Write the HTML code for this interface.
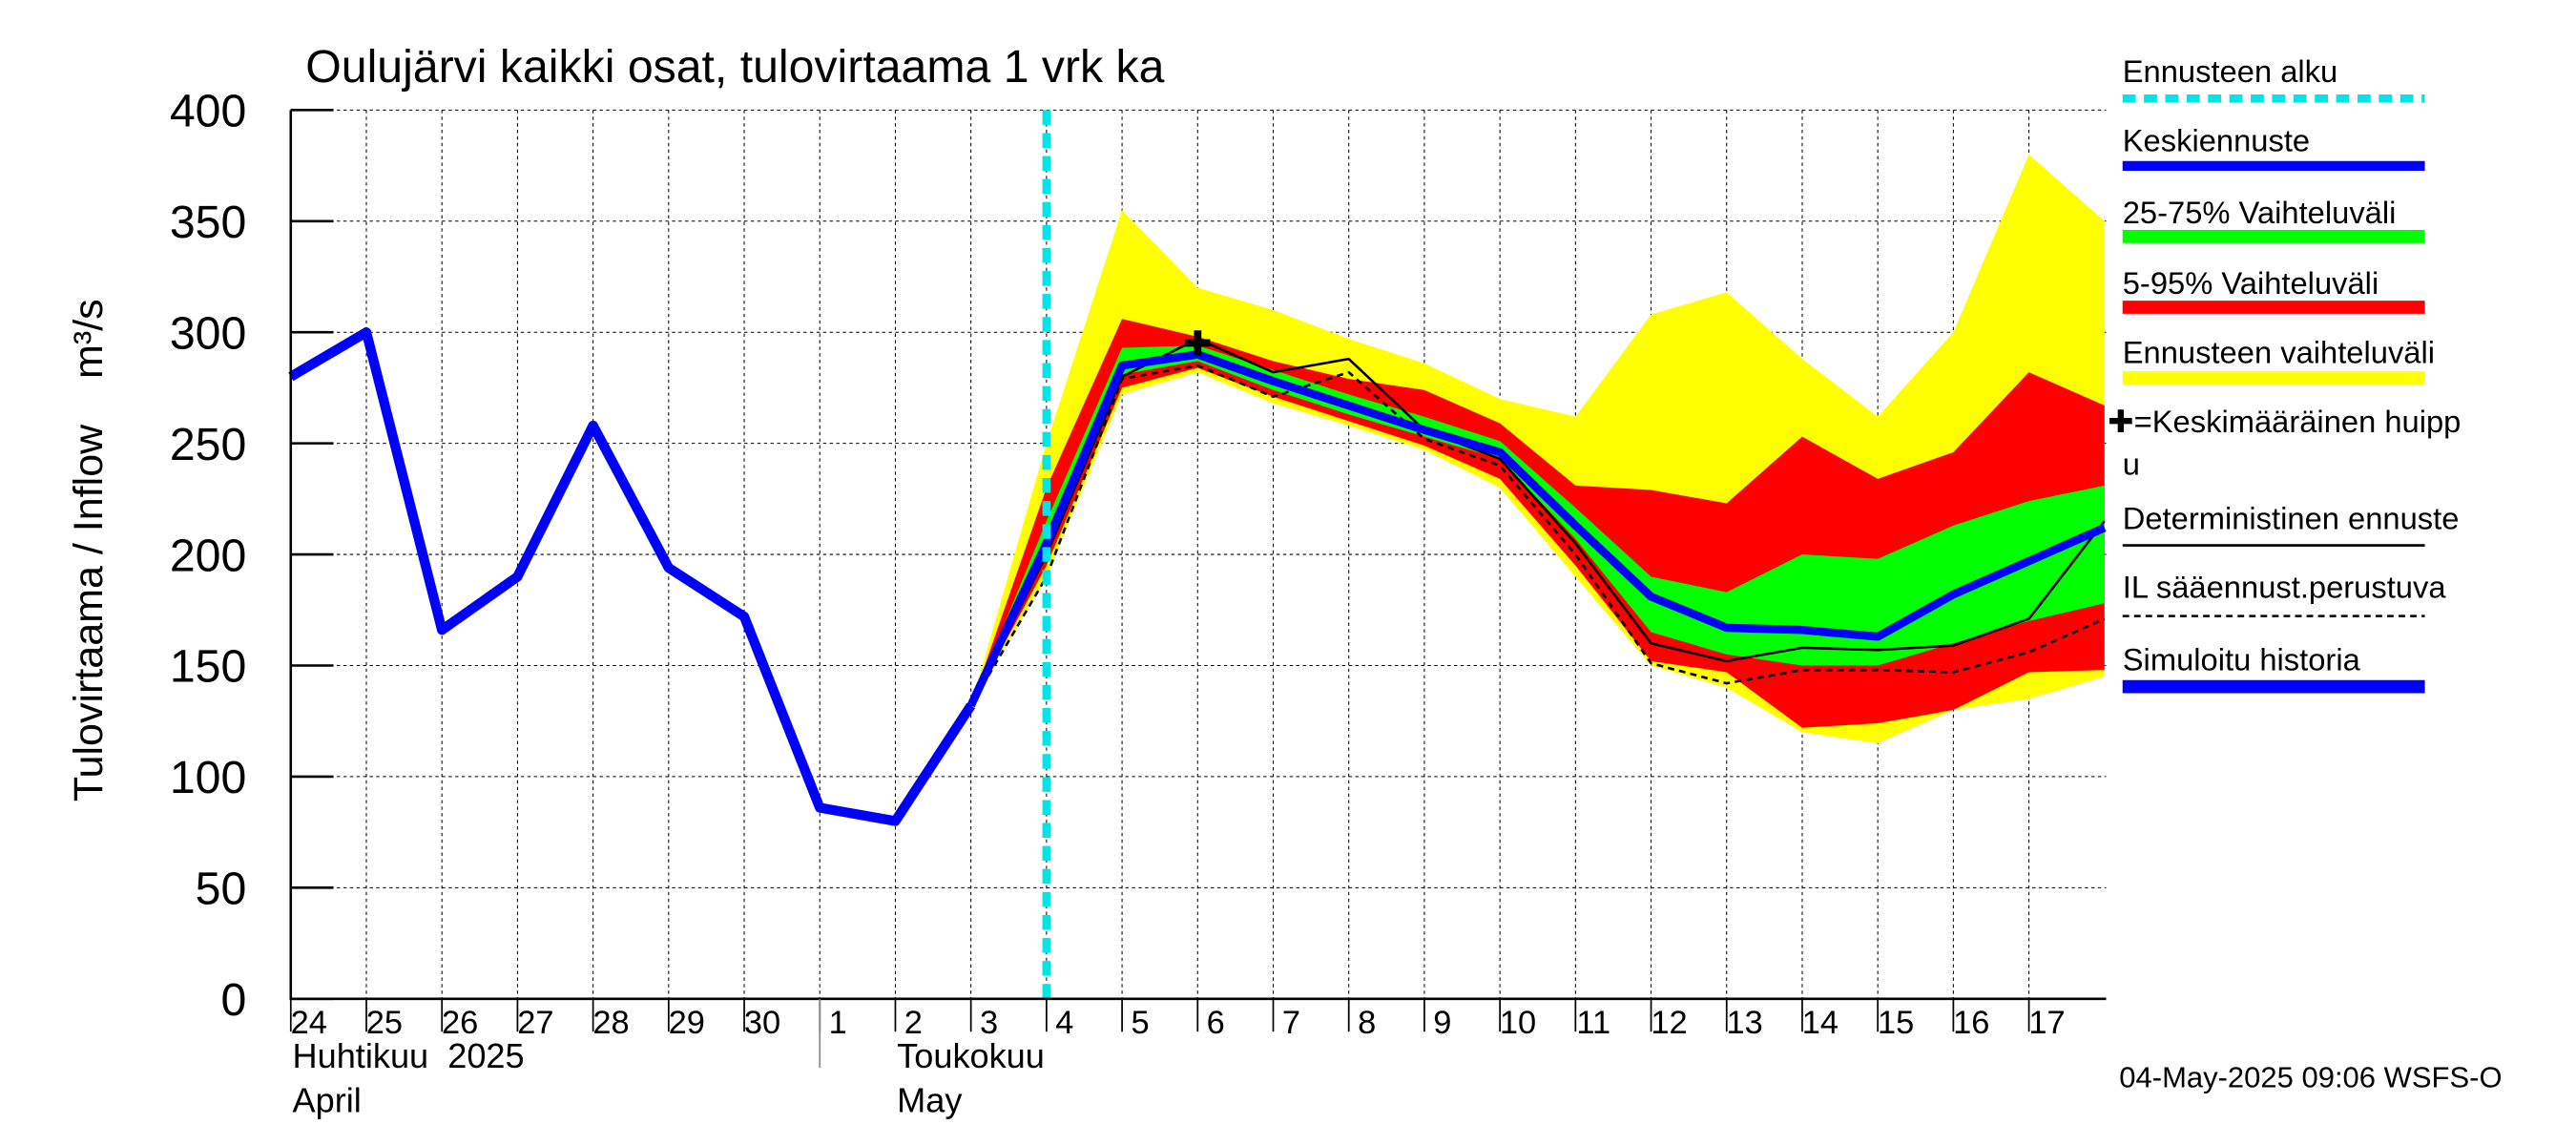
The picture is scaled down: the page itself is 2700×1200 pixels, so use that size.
<!DOCTYPE html>
<html><head><meta charset="utf-8"><style>html,body{margin:0;padding:0;background:#fff}svg{display:block}</style></head>
<body>
<svg id="chart" width="2700" height="1200" viewBox="0 0 1568 697" preserveAspectRatio="none" xmlns="http://www.w3.org/2000/svg" font-family="Liberation Sans, sans-serif">
<rect width="1568" height="697" fill="#fff"/>
<text x="186" y="50" font-size="28">Oulujärvi kaikki osat, tulovirtaama 1 vrk ka</text>
<text transform="translate(62,335) rotate(-90)" text-anchor="middle" font-size="25" style="white-space:pre">Tulovirtaama / Inflow    m³/s</text>
<g id="grid"></g><g id="bands"></g><g id="lines"></g><g id="axes"></g>
<g font-size="19">
<text x="1292" y="50">Ennusteen alku</text><line x1="1292" y1="60" x2="1476" y2="60" stroke="#00e5e5" stroke-width="5" stroke-dasharray="8,5"/>
<text x="1292" y="92">Keskiennuste</text><line x1="1292" y1="101" x2="1476" y2="101" stroke="#0000ff" stroke-width="6"/>
<text x="1292" y="136">25-75% Vaihteluväli</text><line x1="1292" y1="144" x2="1476" y2="144" stroke="#00ff00" stroke-width="8"/>
<text x="1292" y="179">5-95% Vaihteluväli</text><line x1="1292" y1="187" x2="1476" y2="187" stroke="#ff0000" stroke-width="8"/>
<text x="1292" y="221">Ennusteen vaihteluväli</text><line x1="1292" y1="230" x2="1476" y2="230" stroke="#ffff00" stroke-width="8"/>
<text x="1283" y="263">✚=Keskimääräinen huipp</text><text x="1292" y="289">u</text>
<text x="1292" y="322">Deterministinen ennuste</text><line x1="1292" y1="332" x2="1476" y2="332" stroke="#000" stroke-width="1.5"/>
<text x="1292" y="364">IL sääennust.perustuva</text><line x1="1292" y1="375" x2="1476" y2="375" stroke="#000" stroke-width="1.5" stroke-dasharray="4,3"/>
<text x="1292" y="408">Simuloitu historia</text><line x1="1292" y1="418" x2="1476" y2="418" stroke="#0000ff" stroke-width="8"/>
</g>
<text x="1290" y="662" font-size="18">04-May-2025 09:06 WSFS-O</text>
<text x="178" y="650" font-size="21" style="white-space:pre">Huhtikuu  2025</text><text x="178" y="677" font-size="21">April</text>
<text x="546" y="650" font-size="21">Toukokuu</text><text x="546" y="677" font-size="21">May</text>
<line x1="499" y1="608" x2="499" y2="650" stroke="#888" stroke-width="1"/>
</svg>
<script>
const dayLabels=["24","25","26","27","28","29","30","1","2","3","4","5","6","7","8","9","10","11","12","13","14","15","16","17"];
const yTicks=[0,50,100,150,200,250,300,350,400];
const history=[280,300,166,190,258,194,172,86,80,132];
const fcDays=[9,10,11,12,13,14,15,16,17,18,19,20,21,22,23,24];
const mean=[132,205,285,290,278,267,256,246,213,181,167,166,163,182,197,212];
const yellowHi=[132,250,355,320,310,297,286,270,262,308,318,288,262,300,380,350];
const yellowLo=[132,190,272,282,268,258,247,230,190,150,140,120,115,130,135,145];
const redHi=[132,230,306,298,287,279,274,259,231,229,223,253,234,246,282,267];
const redLo=[132,195,275,284,271,260,249,234,195,152,147,122,124,130,147,148];
const greenHi=[132,215,293,294,283,272,262,251,221,190,183,200,198,213,224,231];
const greenLo=[132,200,281,287,274,263,253,243,207,165,155,150,150,160,170,178];
const determ=[132,200,280,297,282,288,256,243,205,160,152,158,157,159,171,215];
const ilDashed=[132,190,279,285,271,282,252,240,200,151,142,148,148,147,156,171];
const peakDay=12, peakVal=295, forecastStart=10;
const X0=177,X1=1282,Y0=608,Y1=67,DW=46;
const xs=d=>X0+d*DW, ys=v=>Y0-(v/400)*(Y0-Y1);
const NS="http://www.w3.org/2000/svg";
function mk(p,t,a){const e=document.createElementNS(NS,t);for(const k in a)e.setAttribute(k,a[k]);document.getElementById(p).appendChild(e);return e;}
const grid='grid';
yTicks.forEach(v=>{
 if(v>0){const l=mk(grid,'line',{x1:X0,x2:X1,y1:ys(v),y2:ys(v),stroke:'#000','stroke-width':0.6,'stroke-dasharray':'2,2'});
 
 }
 const tk=mk('axes','line',{x1:X0,x2:X0+26,y1:ys(v),y2:ys(v),stroke:'#000','stroke-width':1.5});
 
 
 const t=mk('axes','text',{x:150,y:ys(v)+10,'text-anchor':'end','font-size':28});t.textContent=v;
 
 
});
dayLabels.forEach((s,i)=>{
 if(i>0){const l=mk(grid,'line',{x1:xs(i),x2:xs(i),y1:Y1,y2:Y0,stroke:'#000','stroke-width':0.6,'stroke-dasharray':'2,2'});
 
 }
 const tk=mk('axes','line',{x1:xs(i),x2:xs(i),y1:Y0,y2:Y0+20,stroke:'#000','stroke-width':1});
 
 
 const t=mk('axes','text',{x:xs(i)+11,y:Y0+21,'text-anchor':'middle','font-size':20});t.textContent=s;
 
 
});
function band(hi,lo,col,name){
 const pts=fcDays.map((d,i)=>xs(d)+','+ys(hi[i])).concat(fcDays.slice().reverse().map((d,j)=>xs(d)+','+ys(lo[lo.length-1-j])));
 const p=mk('bands','polygon',{points:pts.join(' '),fill:col});
 
 
}
band(yellowHi,yellowLo,'#ffff00','forecast-range-band');
band(redHi,redLo,'#ff0000','band-5-95');
band(greenHi,greenLo,'#00ff00','band-25-75');
function line(days,vals,attrs,name){
 const p=mk('lines','polyline',Object.assign({points:days.map((d,i)=>xs(d)+','+ys(vals[i])).join(' '),fill:'none','stroke-linejoin':'round'},attrs));
 
 
}
line(fcDays,ilDashed,{stroke:'#000','stroke-width':1.5,'stroke-dasharray':'4,3'},'il-forecast-line');
line(fcDays,determ,{stroke:'#000','stroke-width':1.5},'deterministic-line');
line(fcDays,mean,{stroke:'#0000ff','stroke-width':5},'mean-forecast-line');
line(history.map((v,i)=>i),history,{stroke:'#0000ff','stroke-width':6},'simulated-history-line');
const fl=mk('lines','line',{x1:xs(forecastStart),x2:xs(forecastStart),y1:Y1,y2:Y0,stroke:'#00e5e5','stroke-width':5,'stroke-dasharray':'9,5'});


const pk=mk('lines','text',{x:xs(peakDay),y:ys(peakVal)+7,'text-anchor':'middle','font-size':20,'font-weight':'bold'});pk.textContent='✚';


const ax=mk('axes','polyline',{points:`${X0},${Y1} ${X0},${Y0} ${X1},${Y0}`,fill:'none',stroke:'#000','stroke-width':1.5});


</script>
</body></html>
